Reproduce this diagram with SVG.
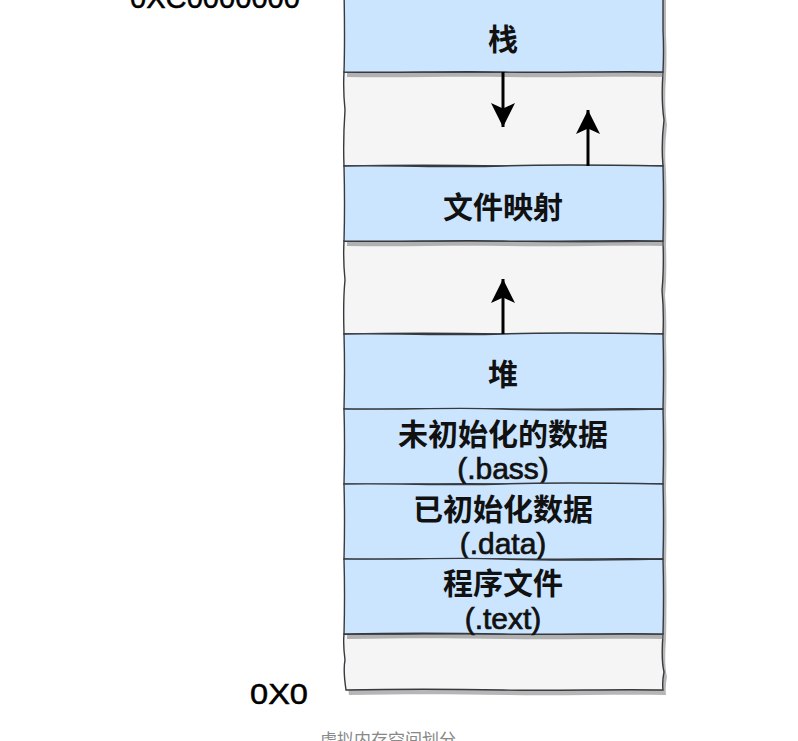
<svg xmlns="http://www.w3.org/2000/svg" xmlns:xlink="http://www.w3.org/1999/xlink" width="798" height="741" viewBox="0 0 798 741">
  <style>
    .blue { fill: #cce5ff; stroke: #36393d; stroke-width: 1.4; }
    .gray { fill: #f5f5f5; stroke: #36393d; stroke-width: 1.4; }
    .shadow { fill: #6e6e6e; opacity: 0.5; stroke: none; }
    .lbl { font-family: "Liberation Sans", "Noto Sans CJK SC", sans-serif; font-size: 30px; font-weight: bold; fill: #111; text-anchor: middle; }
    .sub { font-family: "Liberation Sans", "Noto Sans CJK SC", sans-serif; font-size: 30px; fill: #111; stroke: #111; stroke-width: 0.7; text-anchor: middle; }
    .addr { font-family: "Liberation Sans", sans-serif; font-size: 30px; fill: #000; stroke: #000; stroke-width: 0.5; }
    .caption { font-family: "Liberation Sans", "Noto Sans CJK SC", sans-serif; font-size: 17px; fill: #888; text-anchor: middle; }
    .conn { stroke: #000; stroke-width: 3; fill: none; marker-end: url(#head); }
  </style>
  <defs>
    <marker id="head" viewBox="0 0 22 22" refX="22" refY="11" markerWidth="24" markerHeight="24" markerUnits="userSpaceOnUse" orient="auto">
      <path d="M0,0 L22,11 L0,22 L5,11 Z" fill="#000"/>
    </marker>
    <!-- hand-drawn outlines of the memory segments -->
    <path id="s-stack" d="M344,-10 L663,-10 L663,30 Q664,50 663,72 C610,71 560,73 503,72 S400,73 344,72 Q345,40 344,-10 Z"/>
    <path id="s-gap1" d="M344,72 C400,71 450,73 503,72 S610,71 663,72 Q661,100 664,120 Q661,145 663,166 C610,165 560,167 503,166 S400,165 344,166 Q343,140 345,110 Q343,90 344,72 Z"/>
    <path id="s-mmap" d="M344,166 C400,165 450,168 503,166 S610,165 663,166 Q664,200 663,241 C610,240 560,242 503,241 S400,242 344,241 Q345,205 344,166 Z"/>
    <path id="s-gap2" d="M344,241 C400,242 450,240 503,241 S610,242 663,241 Q664,270 662,290 Q664,312 663,334 C610,333 560,335 503,334 S400,333 344,334 Q343,300 345,280 Q343,260 344,241 Z"/>
    <path id="s-heap" d="M344,334 C400,333 450,336 503,334 S610,333 663,334 Q664,370 663,409 C610,408 560,410 503,409 S400,410 344,409 Q345,370 344,334 Z"/>
    <path id="s-bss" d="M344,409 C400,410 450,407 503,409 S610,410 663,409 Q664,445 663,484 C610,483 560,485 503,484 S400,485 344,484 Q345,445 344,409 Z"/>
    <path id="s-data" d="M344,484 C400,483 450,486 503,484 S610,483 663,484 Q664,520 663,559 C610,558 560,560 503,559 S400,560 344,559 Q345,520 344,484 Z"/>
    <path id="s-text" d="M344,559 C400,560 450,557 503,559 S610,560 663,559 Q664,595 663,634 C610,633 560,635 503,634 S400,633 344,634 Q345,595 344,559 Z"/>
    <path id="s-gap3" d="M344,634 C400,635 450,633 503,634 S610,633 663,634 Q661,660 664,672 Q662,682 663,690 C610,689 560,691 503,690 S400,689 346,690 Q343,670 345,660 Q343,645 344,634 Z"/>
  </defs>

  <!-- address labels -->
  <text class="addr" x="130" y="8" textLength="170" lengthAdjust="spacingAndGlyphs">0XC0000000</text>
  <text class="addr" x="250" y="704" textLength="58" lengthAdjust="spacingAndGlyphs">0X0</text>

  <!-- free gaps between segments -->
  <g id="gap-upper">
    <use xlink:href="#s-gap1" class="shadow" transform="translate(3,5)"/>
    <use xlink:href="#s-gap1" class="gray"/>
  </g>
  <g id="gap-middle">
    <use xlink:href="#s-gap2" class="shadow" transform="translate(3,5)"/>
    <use xlink:href="#s-gap2" class="gray"/>
  </g>
  <g id="gap-lower">
    <use xlink:href="#s-gap3" class="shadow" transform="translate(3,5)"/>
    <use xlink:href="#s-gap3" class="gray"/>
  </g>

  <!-- segments -->
  <g id="stack">
    <use xlink:href="#s-stack" class="shadow" transform="translate(3,5)"/>
    <use xlink:href="#s-stack" class="blue"/>
    <text class="lbl" x="503" y="50">栈</text>
  </g>
  <g id="mmap">
    <use xlink:href="#s-mmap" class="shadow" transform="translate(3,5)"/>
    <use xlink:href="#s-mmap" class="blue"/>
    <text class="lbl" x="503" y="218">文件映射</text>
  </g>
  <g id="heap">
    <use xlink:href="#s-heap" class="shadow" transform="translate(3,5)"/>
    <use xlink:href="#s-heap" class="blue"/>
    <text class="lbl" x="503" y="385">堆</text>
  </g>
  <g id="bss">
    <use xlink:href="#s-bss" class="shadow" transform="translate(3,5)"/>
    <use xlink:href="#s-bss" class="blue"/>
    <text class="lbl" x="503" y="445">未初始化的数据</text>
    <text class="sub" x="503" y="479">(.bass)</text>
  </g>
  <g id="data">
    <use xlink:href="#s-data" class="shadow" transform="translate(3,5)"/>
    <use xlink:href="#s-data" class="blue"/>
    <text class="lbl" x="503" y="520">已初始化数据</text>
    <text class="sub" x="503" y="554">(.data)</text>
  </g>
  <g id="text-seg">
    <use xlink:href="#s-text" class="shadow" transform="translate(3,5)"/>
    <use xlink:href="#s-text" class="blue"/>
    <text class="lbl" x="503" y="594">程序文件</text>
    <text class="sub" x="503" y="629">(.text)</text>
  </g>

  <!-- growth directions -->
  <g id="connectors">
    <line class="conn" x1="503" y1="72" x2="503" y2="127"/>
    <line class="conn" x1="588" y1="166" x2="588" y2="110"/>
    <line class="conn" x1="503" y1="334" x2="503" y2="279"/>
  </g>

  <text class="caption" x="388" y="746">虚拟内存空间划分</text>
</svg>
